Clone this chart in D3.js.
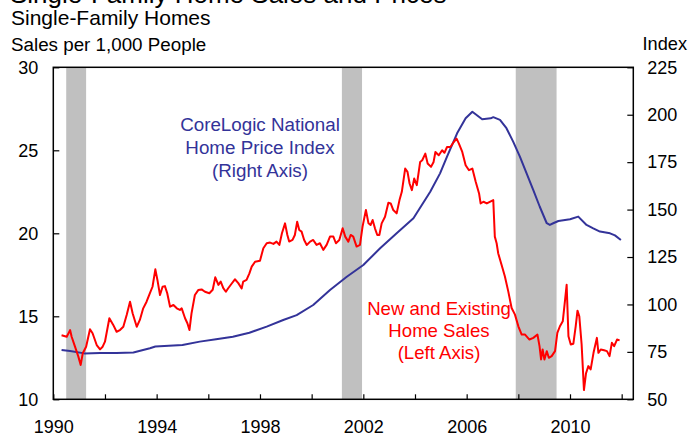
<!DOCTYPE html>
<html>
<head>
<meta charset="utf-8">
<script src="https://cdn.jsdelivr.net/npm/d3@7"></script>
<style>
  html, body { margin: 0; padding: 0; background: #fff; }
  svg { display: block; font-family: "Liberation Sans", Arial, sans-serif; }
</style>
</head>
<body>
<svg id="chart" width="690" height="436"></svg>
<script>
// ---- Data ----
const salesYears = [1990.32,1990.52,1990.65,1990.71,1990.84,1990.97,1991.06,1991.14,1991.27,1991.42,1991.52,1991.68,1991.81,1991.91,1992.00,1992.17,1992.32,1992.45,1992.58,1992.71,1992.84,1992.97,1993.07,1993.23,1993.35,1993.48,1993.61,1993.74,1993.84,1993.95,1994.03,1994.13,1994.23,1994.32,1994.41,1994.52,1994.65,1994.78,1994.90,1994.97,1995.10,1995.19,1995.27,1995.35,1995.48,1995.61,1995.74,1995.87,1996.04,1996.17,1996.27,1996.39,1996.48,1996.58,1996.68,1996.77,1996.90,1997.03,1997.16,1997.29,1997.35,1997.48,1997.59,1997.68,1997.81,1998.00,1998.13,1998.26,1998.39,1998.52,1998.64,1998.75,1998.85,1998.97,1999.06,1999.13,1999.26,1999.35,1999.44,1999.52,1999.61,1999.71,1999.81,1999.94,2000.06,2000.19,2000.32,2000.45,2000.58,2000.71,2000.84,2000.94,2001.07,2001.20,2001.30,2001.42,2001.51,2001.61,2001.74,2001.87,2001.97,2002.10,2002.20,2002.28,2002.36,2002.45,2002.54,2002.62,2002.71,2002.84,2002.97,2003.06,2003.16,2003.29,2003.40,2003.49,2003.62,2003.71,2003.79,2003.88,2003.97,2004.07,2004.20,2004.28,2004.40,2004.49,2004.62,2004.72,2004.79,2004.92,2005.05,2005.14,2005.24,2005.37,2005.50,2005.61,2005.70,2005.83,2005.96,2006.09,2006.22,2006.35,2006.48,2006.54,2006.65,2006.78,2007.03,2007.09,2007.16,2007.22,2007.35,2007.48,2007.61,2007.74,2007.87,2008.00,2008.13,2008.26,2008.43,2008.58,2008.74,2008.82,2008.88,2008.94,2009.01,2009.10,2009.18,2009.29,2009.42,2009.51,2009.61,2009.72,2009.81,2009.87,2009.94,2010.03,2010.13,2010.22,2010.29,2010.36,2010.45,2010.54,2010.62,2010.71,2010.80,2010.91,2011.04,2011.10,2011.19,2011.32,2011.43,2011.53,2011.62,2011.71,2011.82,2011.92];
const salesValues = [13.86,13.77,14.17,13.77,13.17,12.57,12.07,12.77,13.17,14.22,13.98,13.27,13.01,13.17,13.47,14.88,14.48,14.07,14.17,14.37,15.08,15.88,15.18,14.37,14.78,15.48,15.88,16.39,16.78,17.83,17.19,16.28,16.78,16.82,16.39,15.58,15.68,15.48,15.38,15.48,14.88,14.58,14.17,15.18,16.28,16.58,16.62,16.48,16.39,16.60,17.35,16.89,17.09,16.70,16.48,16.69,16.96,17.23,17.00,16.68,17.09,17.19,17.59,17.99,18.29,18.35,19.10,19.40,19.44,19.36,19.50,19.30,20.00,20.60,19.90,19.50,19.60,19.90,20.70,20.20,20.10,19.60,19.30,19.50,19.60,19.30,19.40,19.00,19.30,19.80,19.80,19.40,19.60,20.30,19.80,19.50,19.90,19.80,19.20,19.30,20.40,21.40,20.60,20.50,20.80,20.30,19.90,19.90,20.60,21.00,21.84,21.80,21.40,21.20,22.00,22.50,23.90,23.70,23.00,22.60,23.30,22.90,24.30,24.40,24.80,24.20,24.00,24.30,24.90,24.70,25.00,24.85,25.20,25.20,25.50,25.70,25.40,24.90,24.10,23.80,23.90,23.10,22.40,21.80,21.90,21.80,22.00,19.80,19.40,18.80,18.10,17.40,16.50,15.50,15.10,14.40,13.90,13.90,13.60,13.70,13.90,13.20,12.40,13.00,12.40,12.90,12.50,12.60,12.90,14.00,14.40,14.70,16.00,16.90,13.80,13.30,13.35,14.40,15.34,15.00,13.30,10.56,11.57,12.00,11.80,12.80,13.70,12.80,13.00,12.95,12.90,12.60,13.40,13.20,13.60,13.55];

const priceYears = [1990.32,1990.65,1991.20,1991.81,1992.45,1993.10,1993.74,1993.95,1995.00,1995.67,1996.30,1996.95,1997.59,1998.26,1998.90,1999.42,2000.06,2000.71,2001.36,2002.00,2002.65,2003.29,2003.94,2004.59,2004.97,2005.24,2005.63,2005.96,2006.22,2006.60,2006.93,2007.03,2007.29,2007.54,2007.80,2008.06,2008.32,2008.58,2008.83,2009.10,2009.22,2009.35,2009.55,2010.00,2010.32,2010.64,2010.90,2011.16,2011.55,2011.74,2011.97];
const priceValues = [76.0,75.5,74.2,74.4,74.4,74.7,76.9,77.8,78.6,80.4,81.6,83.0,85.1,88.3,91.8,94.4,99.7,107.6,114.6,120.8,129.6,137.5,145.4,159.4,169.1,177.9,190.2,198.1,201.6,197.6,198.1,198.7,197.3,192.9,185.8,177.9,169.1,160.3,151.5,142.8,141.9,142.8,144.0,144.9,146.3,141.9,140.1,138.4,137.5,136.4,134.0];

const recessionStarts = [1990.5, 2001.17, 2007.9];
const recessionEnds   = [1991.27, 2001.95, 2009.48];

const leftTicks  = [10, 15, 20, 25, 30];
const rightTicks = [50, 75, 100, 125, 150, 175, 200, 225];
const xTickYears = [1990,1992,1994,1996,1998,2000,2002,2004,2006,2008,2010,2012];
const xLabelYears = [1990,1994,1998,2002,2006,2010];

const titleText = "Single-Family Home Sales and Prices";
const subtitleText = "Single-Family Homes";
const leftAxisTitle = "Sales per 1,000 People";
const rightAxisTitle = "Index";
const priceLabel = ["CoreLogic National", "Home Price Index", "(Right Axis)"];
const salesLabel = ["New and Existing", "Home Sales", "(Left Axis)"];

// ---- Layout ----
const svg = d3.select("#chart");
const L = 53.3, R = 633.3, T = 67.3, B = 399.3;
const blue = "#333399", red = "#FF0000", grey = "#C0C0C0";

const x = d3.scaleLinear().domain([1990, 2012.45]).range([L, R]);
const yL = d3.scaleLinear().domain([10, 30]).range([B, T]);
const yR = d3.scaleLinear().domain([50, 225]).range([B, T]);

// Recession bands
svg.append("g").selectAll("rect")
  .data(recessionStarts.map((s, i) => [s, recessionEnds[i]]))
  .join("rect")
  .attr("x", d => x(d[0]))
  .attr("width", d => x(d[1]) - x(d[0]))
  .attr("y", T)
  .attr("height", B - T)
  .attr("fill", grey);

// Lines
const priceData = priceYears.map((yr, i) => [yr, priceValues[i]]);
const salesData = salesYears.map((yr, i) => [yr, salesValues[i]]);

svg.append("path")
  .datum(priceData)
  .attr("fill", "none")
  .attr("stroke", blue)
  .attr("stroke-width", 2)
  .attr("stroke-linejoin", "round")
  .attr("d", d3.line().x(d => x(d[0])).y(d => yR(d[1])));

svg.append("path")
  .datum(salesData)
  .attr("fill", "none")
  .attr("stroke", red)
  .attr("stroke-width", 2)
  .attr("stroke-linejoin", "round")
  .attr("d", d3.line().x(d => x(d[0])).y(d => yL(d[1])));

// Axes
const axisFont = 18;
const gL = svg.append("g").attr("transform", `translate(${L},0)`)
  .call(d3.axisLeft(yL).tickValues(leftTicks).tickSizeInner(-6).tickSizeOuter(0).tickPadding(15));
const gR = svg.append("g").attr("transform", `translate(${R},0)`)
  .call(d3.axisRight(yR).tickValues(rightTicks).tickSizeInner(-6).tickSizeOuter(0).tickPadding(14));
const gB = svg.append("g").attr("transform", `translate(0,${B})`)
  .call(d3.axisBottom(x).tickValues(xTickYears).tickSizeInner(-5).tickSizeOuter(0).tickPadding(21)
    .tickFormat(d => xLabelYears.includes(d) ? String(d) : ""));

[gL, gR, gB].forEach(g => {
  g.select(".domain").remove();
  g.selectAll(".tick line").attr("stroke", "#000").attr("stroke-width", 1.2);
  g.selectAll(".tick text").attr("fill", "#000")
    .style("font-size", axisFont + "px")
    .style("font-family", "'Liberation Sans', Arial, sans-serif");
});

// Frame
svg.append("rect")
  .attr("x", L).attr("y", T)
  .attr("width", R - L).attr("height", B - T)
  .attr("fill", "none").attr("stroke", "#000").attr("stroke-width", 1.5);

// Titles
svg.append("text").attr("x", 10).attr("y", 3)
  .style("font-size", "26px").attr("fill", "#000").text(titleText);
svg.append("text").attr("x", 11).attr("y", 25)
  .style("font-size", "21px").attr("fill", "#000").text(subtitleText);
svg.append("text").attr("x", 11).attr("y", 50.5)
  .style("font-size", "18.8px").attr("fill", "#000").text(leftAxisTitle);
svg.append("text").attr("x", 642.5).attr("y", 50)
  .style("font-size", "18.2px").attr("fill", "#000").text(rightAxisTitle);

// Series annotations
svg.append("text").attr("text-anchor", "middle").attr("fill", blue)
  .style("font-size", "18.8px")
  .selectAll("tspan").data(priceLabel).join("tspan")
  .attr("x", 260).attr("y", (d, i) => 131 + i * 23).text(d => d);

svg.append("text").attr("text-anchor", "middle").attr("fill", red)
  .style("font-size", "18.6px")
  .selectAll("tspan").data(salesLabel).join("tspan")
  .attr("x", 439).attr("y", (d, i) => 315 + i * 21.8).text(d => d);
</script>
</body>
</html>
